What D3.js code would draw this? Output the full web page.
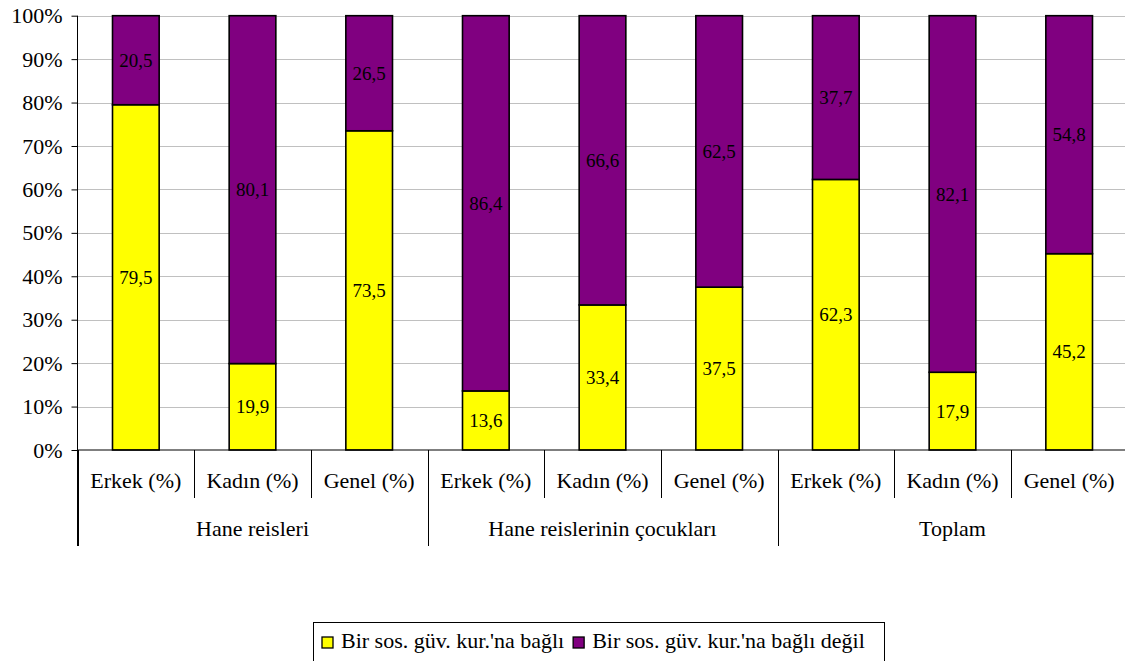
<!DOCTYPE html>
<html>
<head>
<meta charset="utf-8">
<script src="https://cdn.jsdelivr.net/npm/d3@7"></script>
<style>
  html, body { margin: 0; padding: 0; background: #fff; }
  svg text { font-family: 'Liberation Serif', 'Times New Roman', Times, 'DejaVu Serif', serif !important; }
</style>
</head>
<body>
<svg id="chart" width="1125" height="661"></svg>
<script>
const groups = ["Hane reisleri", "Hane reislerinin çocukları", "Toplam"];
const subCategories = ["Erkek (%)", "Kadın (%)", "Genel (%)"];
const seriesNames = ["Bir sos. güv. kur.'na bağlı", "Bir sos. güv. kur.'na bağlı değil"];
const bagli =      [79.5, 19.9, 73.5, 13.6, 33.4, 37.5, 62.3, 17.9, 45.2];
const bagliDegil = [20.5, 80.1, 26.5, 86.4, 66.6, 62.5, 37.7, 82.1, 54.8];
const yTicks = [0, 10, 20, 30, 40, 50, 60, 70, 80, 90, 100];
const colors = ["#ffff00", "#800080"];

(function () {
const FONT = "'Liberation Serif', 'Times New Roman', Times, 'DejaVu Serif', serif";
const categories = [];
groups.forEach((g, gi) => subCategories.forEach((s, si) => categories.push({ id: gi * 3 + si, group: g, label: s })));

const svg = d3.select("#chart").attr("font-family", FONT);
const pLeft = 77.5, pRight = 1127.5, pTop = 15.7, pBottom = 450;

const x = d3.scaleBand().domain(categories.map(d => d.id)).range([pLeft, pRight]).paddingInner(0.6).paddingOuter(0.3);
const y = d3.scaleLinear().domain([0, 100]).range([pBottom, pTop]);

// gridlines
svg.append("g").selectAll("line").data(yTicks.filter(t => t > 0)).join("line")
  .attr("x1", pLeft).attr("x2", pRight)
  .attr("y1", d => Math.round(y(d)) + 0.5).attr("y2", d => Math.round(y(d)) + 0.5)
  .attr("stroke", "#c0c0c0").attr("stroke-width", 1);

// stacked data
const rows = categories.map((c, i) => ({ id: c.id, a: bagli[i], b: bagliDegil[i] }));
const stacked = d3.stack().keys(["a", "b"])(rows);

const layers = svg.append("g").selectAll("g").data(stacked).join("g")
  .attr("fill", (d, i) => colors[i]);
layers.selectAll("rect").data(d => d).join("rect")
  .attr("x", d => x(d.data.id))
  .attr("width", x.bandwidth())
  .attr("y", d => y(d[1]))
  .attr("height", d => y(d[0]) - y(d[1]))
  .attr("stroke", "#000").attr("stroke-width", 1.6);

// data labels
const fmt = v => v.toFixed(1).replace(".", ",");
const labelG = svg.append("g").attr("font-size", 19).attr("text-anchor", "middle").attr("fill", "#000");
stacked.forEach(layer => {
  labelG.selectAll(null).data(layer).join("text")
    .attr("x", d => x(d.data.id) + x.bandwidth() / 2)
    .attr("y", d => (y(d[0]) + y(d[1])) / 2)
    .attr("dy", "0.35em")
    .attr("font-family", FONT)
    .text(d => fmt(d[1] - d[0]));
});

// y axis
const yAxis = d3.axisLeft(y).tickValues(yTicks).tickFormat(d => d + "%").tickSize(6).tickPadding(9);
const yg = svg.append("g").attr("transform", `translate(${pLeft},0)`).call(yAxis);
yg.attr("font-family", FONT).attr("font-size", 22);
yg.select(".domain").attr("stroke", "#000").attr("d", `M0,${pTop}V${pBottom + 96}`);
yg.selectAll(".tick line").attr("stroke", "#000");
yg.selectAll(".tick text").attr("font-size", 22).attr("font-family", FONT).attr("fill", "#000");

// x axis base line
svg.append("line").attr("x1", pLeft).attr("x2", pRight).attr("y1", pBottom).attr("y2", pBottom)
  .attr("stroke", "#000").attr("stroke-width", 1.2);

// category separators
const step = x.step();
const bounds = d3.range(categories.length + 1);
svg.append("g").selectAll("line").data(bounds).join("line")
  .attr("x1", i => Math.round(pLeft + i * step) + 0.5)
  .attr("x2", i => Math.round(pLeft + i * step) + 0.5)
  .attr("y1", pBottom)
  .attr("y2", i => (i % 3 === 0 ? pBottom + 96 : pBottom + 48))
  .attr("stroke", "#000").attr("stroke-width", 1);

// category labels
svg.append("g").selectAll("text").data(categories).join("text")
  .attr("x", d => x(d.id) + x.bandwidth() / 2)
  .attr("y", 488)
  .attr("text-anchor", "middle").attr("font-size", 22).attr("font-family", FONT).attr("fill", "#000")
  .text(d => d.label);

// group labels
svg.append("g").selectAll("text").data(groups).join("text")
  .attr("x", (d, i) => pLeft + (i * 3 + 1.5) * step)
  .attr("y", 536)
  .attr("text-anchor", "middle").attr("font-size", 22).attr("font-family", FONT).attr("fill", "#000")
  .text(d => d);

// legend
const lg = svg.append("g");
lg.append("rect").attr("x", 313.5).attr("y", 622.5).attr("width", 571).attr("height", 60)
  .attr("fill", "#fff").attr("stroke", "#000").attr("stroke-width", 1);
let lx = 322;
seriesNames.forEach((name, i) => {
  lg.append("rect").attr("x", lx).attr("y", 637).attr("width", 11).attr("height", 11)
    .attr("fill", colors[i]).attr("stroke", "#000").attr("stroke-width", 1.3);
  const t = lg.append("text").attr("x", lx + 19).attr("y", 648).attr("font-size", 22).attr("font-family", FONT).attr("fill", "#000").text(name);
  lx = lx + 19 + t.node().getComputedTextLength() + 9;
});
})();
</script>
</body>
</html>
